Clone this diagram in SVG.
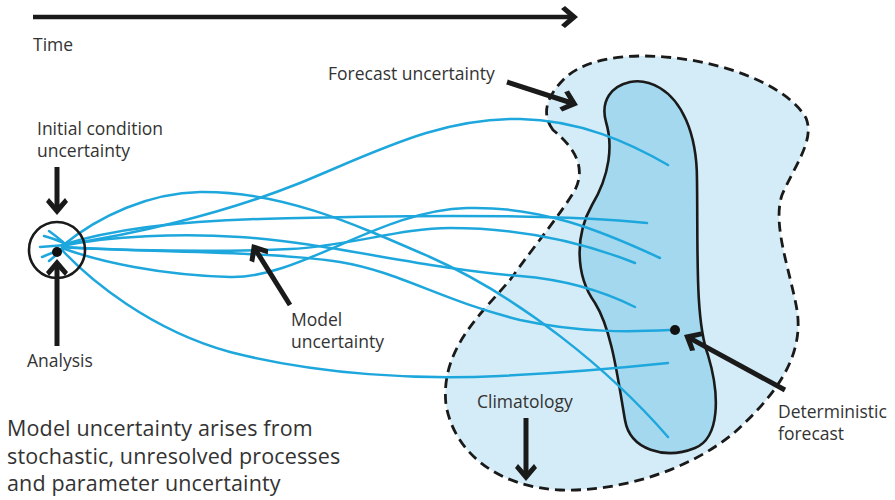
<svg xmlns="http://www.w3.org/2000/svg" width="895" height="500" viewBox="0 0 895 500">
<style>
.lbl{font-family:"Open Sans","Noto Sans",sans-serif;font-size:17.5px;fill:#333}
.big{font-family:"Open Sans","Noto Sans",sans-serif;font-size:21.5px;letter-spacing:0.15px;fill:#333}
.traj{fill:none;stroke:#1ea7dc;stroke-width:2.5;stroke-linecap:round}
.arr{fill:none;stroke:#1a1a1a;stroke-width:5;marker-end:url(#ah)}
</style>
<defs>
<marker id="ah" viewBox="-20 -13 22 26" refX="-5" refY="0" markerWidth="22" markerHeight="26" orient="auto" markerUnits="userSpaceOnUse">
<path d="M0,0 L-13,-11 L-17,-8 L-8,0 L-17,8 L-13,11 Z" fill="#1a1a1a"/>
</marker>
</defs>
<rect width="895" height="500" fill="#fff"/>

<g id="forecast-region">
<path d="M553,130 C540,112 548,95 565,78 C590,55 640,52 690,60 C740,68 790,90 806,118 C815,140 795,165 782,195 C772,225 790,270 797,310 C805,360 770,400 735,432 C690,470 620,492 560,490 C500,487 455,455 446,405 C440,350 480,315 510,280 C535,245 560,215 575,190 C585,170 578,150 553,130 Z" fill="#d4ecf7" stroke="#1a1a1a" stroke-width="2.8" stroke-dasharray="10 6"/>
</g>
<g id="deterministic-region">
<path d="M630,82 C612,86 600,100 606,122 C613,145 610,175 592,205 C575,235 575,275 595,303 C612,330 618,380 625,420 C630,450 665,460 695,448 C720,438 720,395 708,355 C695,320 698,250 697,180 C697,130 680,100 660,88 C650,82 640,80 630,82 Z" fill="#a3d8ee" stroke="#1a1a1a" stroke-width="2.6"/>
</g>

<g id="trajectories">
<path class="traj" d="M62,245 C130,235 220,215 300,183 C380,150 440,118 520,119 C580,120 630,143 668,165"/>
<path class="traj" d="M62,246 C100,215 150,193 200,192 C280,191 350,222 430,257 C520,297 610,370 668,437"/>
<path class="traj" d="M62,245 C110,230 180,221 260,219 C400,215 550,213 647,223"/>
<path class="traj" d="M62,247 C120,250 200,253 290,249 C350,246 400,228 450,228 C530,228 590,245 635,263"/>
<path class="traj" d="M62,248 C100,262 160,275 230,277 C300,279 380,210 467,208 C540,206 600,230 660,258"/>
<path class="traj" d="M62,246 C110,236 180,233 240,237 C330,243 420,268 520,276 C570,280 605,292 635,307"/>
<path class="traj" d="M62,247 C120,252 260,250 340,262 C400,272 440,300 520,320 C580,333 630,332 670,330"/>
<path class="traj" d="M62,250 C90,280 150,330 230,352 C320,375 420,380 500,376 C580,372 630,367 668,363"/>
<path class="traj" d="M66,245 L40,247 M64,243 Q52,238 44,236 M63,242 Q56,236 49,231 M64,248 Q52,253 42,257 M63,250 Q56,255 49,261"/>
</g>

<g id="initial-circle">
<circle cx="57" cy="250" r="28" fill="none" stroke="#1a1a1a" stroke-width="2.6"/>
<circle cx="57" cy="252" r="5" fill="#111"/>
</g>
<g id="deterministic-dot">
<circle cx="675" cy="330" r="5" fill="#111"/>
</g>

<g id="connectors">
<line class="arr" x1="33" y1="17" x2="573" y2="17" style="stroke-width:4.5"/>
<line class="arr" x1="57" y1="167" x2="57" y2="210"/>
<line class="arr" x1="57" y1="346" x2="57" y2="264"/>
<line class="arr" x1="290" y1="305" x2="254.6" y2="248.2"/>
<line class="arr" x1="507" y1="82" x2="573.2" y2="103.5"/>
<line class="arr" x1="785" y1="390" x2="688.4" y2="337.4"/>
<line class="arr" x1="526" y1="418" x2="526" y2="476"/>
</g>

<g id="labels">
<text class="lbl" x="33" y="51">Time</text>
<text class="lbl" x="328" y="80">Forecast uncertainty</text>
<text class="lbl" x="37" y="135">Initial condition<tspan x="37" y="157">uncertainty</tspan></text>
<text class="lbl" x="27" y="367">Analysis</text>
<text class="lbl" x="291" y="326">Model<tspan x="291" y="348">uncertainty</tspan></text>
<text class="lbl" x="477" y="408">Climatology</text>
<text class="lbl" x="778" y="418">Deterministic<tspan x="778" y="440">forecast</tspan></text>
<text class="big" x="7" y="436">Model uncertainty arises from<tspan x="7" y="463.5">stochastic, unresolved processes</tspan><tspan x="7" y="491">and parameter uncertainty</tspan></text>
</g>
</svg>
